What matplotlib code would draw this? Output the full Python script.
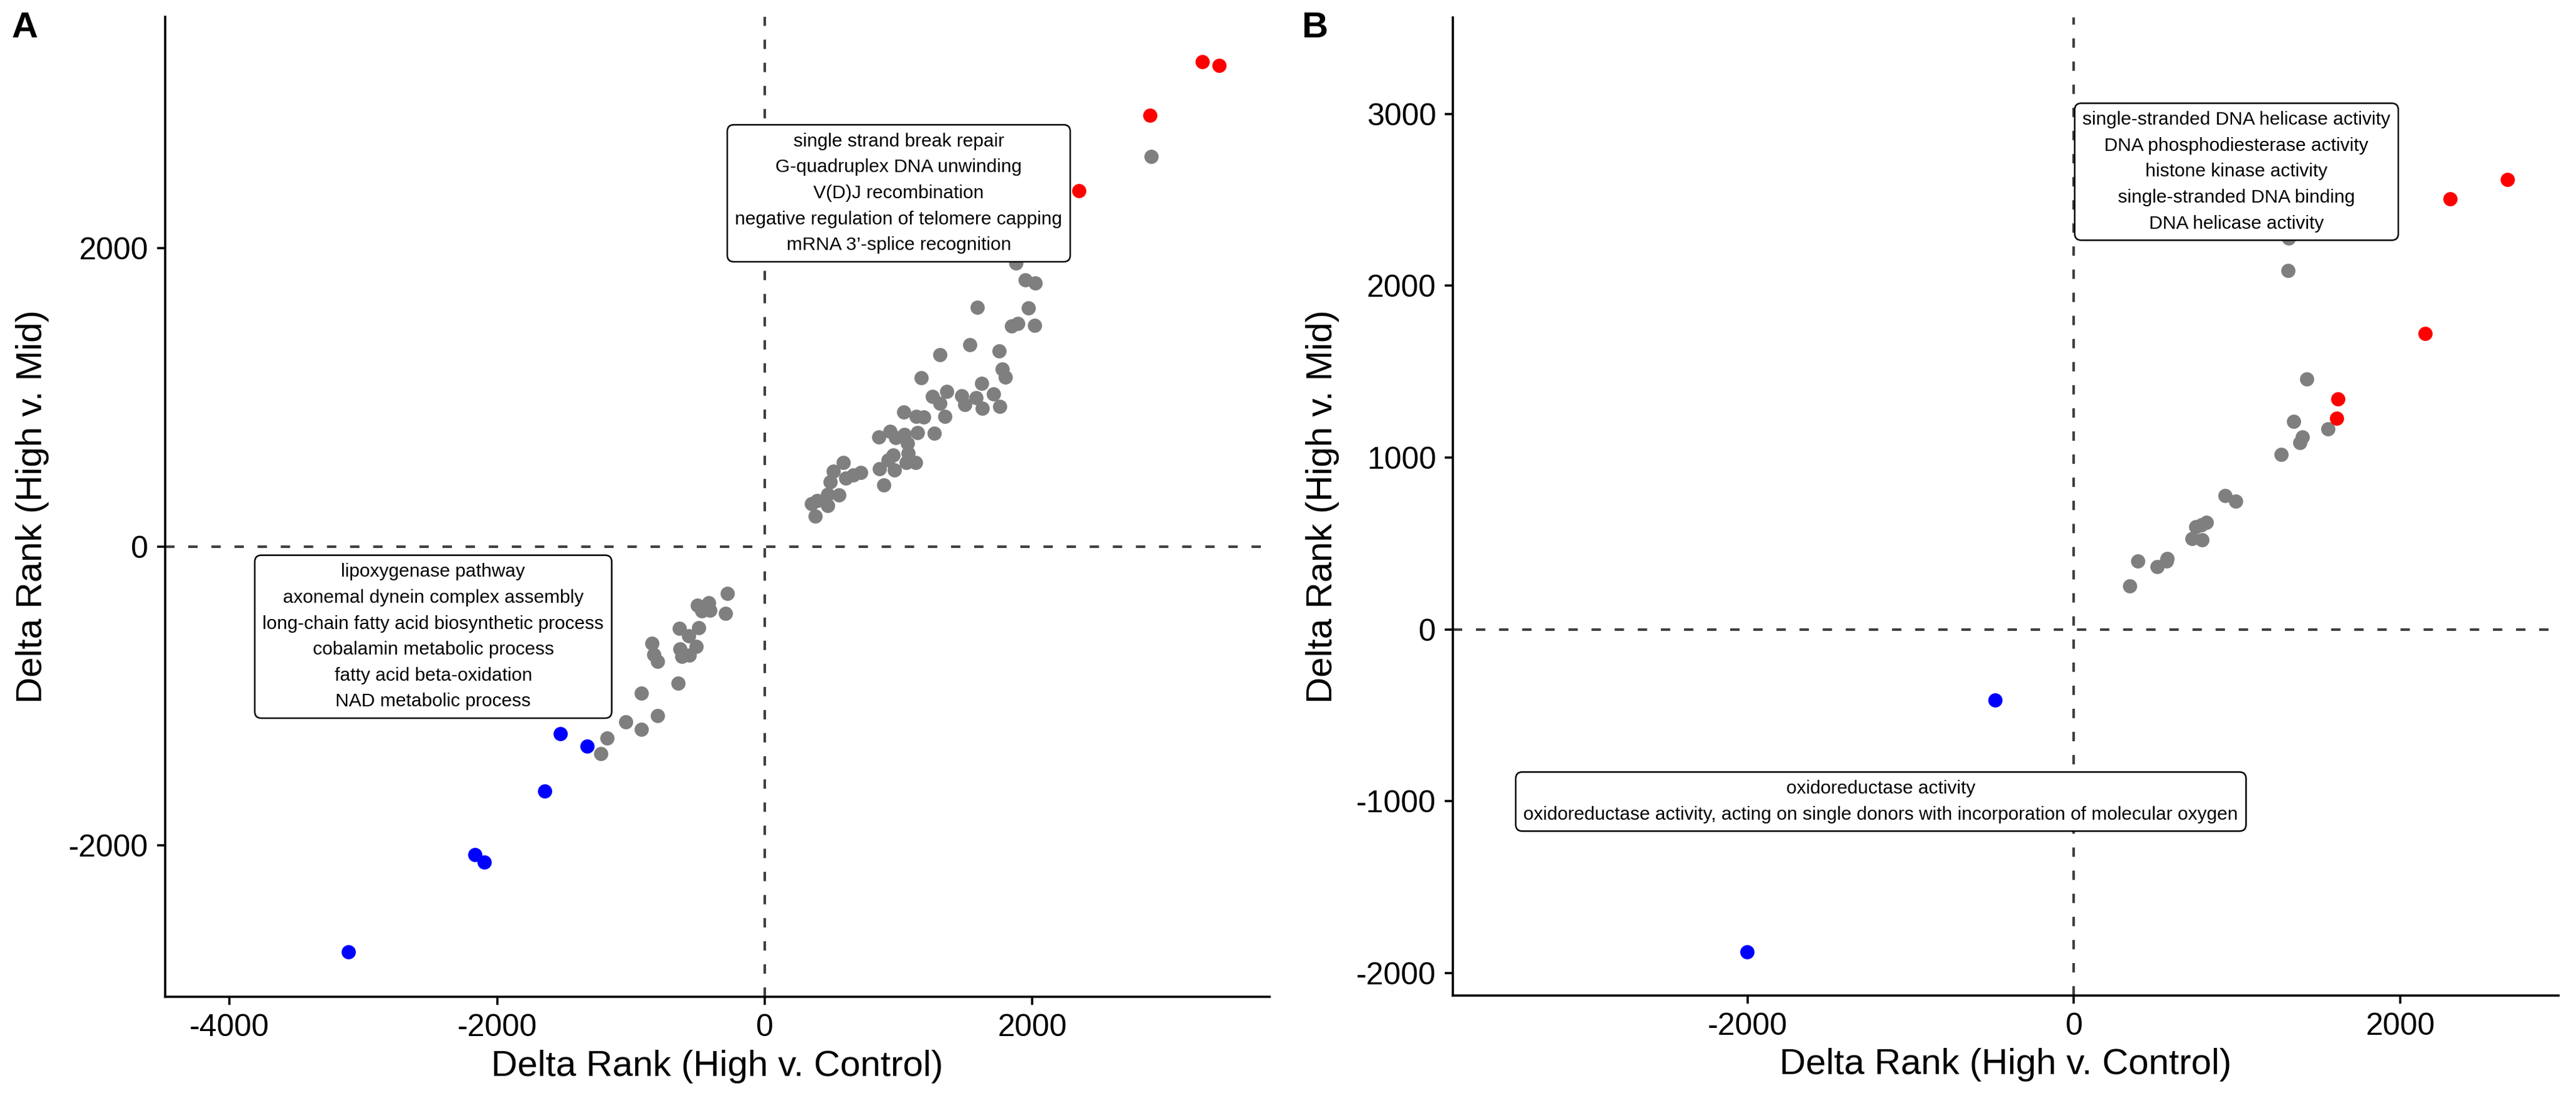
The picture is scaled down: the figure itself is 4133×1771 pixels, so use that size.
import matplotlib
matplotlib.use("Agg")
import matplotlib.pyplot as plt
import numpy as np

plt.rcParams['font.family'] = ['Liberation Sans', 'DejaVu Sans']
plt.rcParams['axes.unicode_minus'] = False

# ---------------- Panel A data ----------------
a_gray_x = [1876, 1946, 2021, 1588, 1971, 1845, 1889, 2018, 1534, 1310, 1752, 1774, 1796, 1167,
            1621, 1361, 1251, 1473, 1580, 1709, 1307, 1496, 1625, 1754, 1038, 1132, 1186, 1346,
            1139, 1265, 852, 934, 976, 1042, 1065, 1069, 958, 922, 1057, 1128, 855, 970, 891,
            588, 514, 607, 663, 716, 488, 472, 554, 348, 390, 469, 379, 2887,
            -279, -501, -418, -470, -408, -295, -638, -494, -567, -514, -632, -618, -563,
            -841, -827, -801, -647, -923, -801, -1037, -921, -1178, -1223]
a_gray_y = [1901, 1786, 1765, 1603, 1599, 1479, 1493, 1481, 1353, 1286, 1311, 1189, 1136, 1133,
            1094, 1041, 1006, 1009, 999, 1023, 959, 951, 928, 938, 900, 871, 867, 871,
            764, 760, 735, 771, 732, 750, 693, 628, 614, 582, 565, 562, 521, 514, 413,
            562, 505, 458, 479, 498, 436, 349, 345, 289, 308, 277, 203, 2614,
            -313, -391, -377, -430, -427, -445, -546, -542, -597, -667, -685, -734, -727,
            -646, -722, -768, -916, -982, -1132, -1175, -1223, -1281, -1388]
a_red_x = [3269, 3397, 2876, 2347]
a_red_y = [3247, 3223, 2890, 2384]
a_blue_x = [-1527, -1329, -1645, -2167, -2094, -3112]
a_blue_y = [-1251, -1335, -1637, -2065, -2112, -2713]
a_up_terms = ["single strand break repair", "G-quadruplex DNA unwinding", "V(D)J recombination",
              "negative regulation of telomere capping", "mRNA 3\u2019-splice recognition"]
a_down_terms = ["lipoxygenase pathway", "axonemal dynein complex assembly",
                "long-chain fatty acid biosynthetic process", "cobalamin metabolic process",
                "fatty acid beta-oxidation", "NAD metabolic process"]

# ---------------- Panel B data ----------------
b_gray_x = [1318, 1314, 1426, 1346, 1558, 1402, 1385, 1272, 928, 993, 811, 782, 749, 724, 786,
            573, 568, 509, 390, 341]
b_gray_y = [2278, 2089, 1457, 1211, 1167, 1120, 1089, 1019, 778, 746, 624, 608, 597, 528, 522,
            413, 398, 367, 398, 254]
b_red_x = [2660, 2307, 2153, 1620, 1611]
b_red_y = [2620, 2507, 1722, 1343, 1228]
b_blue_x = [-484, -2004]
b_blue_y = [-410, -1877]
b_up_terms = ["single-stranded DNA helicase activity", "DNA phosphodiesterase activity",
              "histone kinase activity", "single-stranded DNA binding", "DNA helicase activity"]
b_down_terms = ["oxidoreductase activity",
                "oxidoreductase activity, acting on single donors with incorporation of molecular oxygen"]

W, H = 4133, 1771
DPI = 300
fig = plt.figure(figsize=(W / DPI, H / DPI), dpi=DPI)

def px_axes(l, t, r, b):
    return fig.add_axes([l / W, 1 - b / H, (r - l) / W, (b - t) / H])

axA = px_axes(265, 27, 2037, 1599)
axB = px_axes(2331, 28, 4105, 1597)

GRAY = '#7F7F7F'
RED = '#FF0000'
BLUE = '#0000FF'
MS = 30

def style(ax, xlim, ylim, xticks, yticks, ylab_x):
    ax.set_xlim(*xlim)
    ax.set_ylim(*ylim)
    ax.set_xticks(xticks)
    ax.set_yticks(yticks)
    ax.set_xticklabels([str(v) for v in xticks])
    ax.set_yticklabels([str(v) for v in yticks])
    for s in ['top', 'right']:
        ax.spines[s].set_visible(False)
    for s in ['left', 'bottom']:
        ax.spines[s].set_linewidth(0.85)
        ax.spines[s].set_color('black')
    ax.tick_params(axis='both', direction='out', length=3.2, width=0.85, pad=3.2,
                   labelsize=12, colors='black')
    ax.axhline(0, color='#3f3f3f', lw=1.0, dashes=(3.6, 5.3), zorder=1)
    ax.axvline(0, color='#3f3f3f', lw=1.0, dashes=(3.6, 5.3), zorder=1)
    ax.set_xlabel('Delta Rank (High v. Control)', fontsize=14)
    ax.set_ylabel('Delta Rank (High v. Mid)', fontsize=14)
    ax.xaxis.label.set_va('center')
    ax.yaxis.label.set_va('center')
    ax.xaxis.set_label_coords(0.5, -0.071)
    ax.yaxis.set_label_coords(ylab_x, 0.5)

def label(ax, x, y, terms):
    ax.text(x, y, "\n".join(terms), ha='center', va='center', fontsize=7.2,
            linespacing=1.62, zorder=5,
            bbox=dict(boxstyle='round,pad=0.42,rounding_size=0.35', fc='white',
                      ec='black', lw=0.6))

# Panel A
axA.scatter(a_gray_x, a_gray_y, s=MS, c=GRAY, linewidths=0, zorder=3)
axA.scatter(a_red_x, a_red_y, s=MS, c=RED, linewidths=0, zorder=3)
axA.scatter(a_blue_x, a_blue_y, s=MS, c=BLUE, linewidths=0, zorder=3)
style(axA, (-4480, 3772), (-3015, 3549), [-4000, -2000, 0, 2000], [-2000, 0, 2000], -0.120)
label(axA, 1001, 2367, a_up_terms)
label(axA, -2477, -603, a_down_terms)

# Panel B
axB.scatter(b_gray_x, b_gray_y, s=MS, c=GRAY, linewidths=0, zorder=3)
axB.scatter(b_red_x, b_red_y, s=MS, c=RED, linewidths=0, zorder=3)
axB.scatter(b_blue_x, b_blue_y, s=MS, c=BLUE, linewidths=0, zorder=3)
style(axB, (-3809, 2972), (-2131, 3562), [-2000, 0, 2000], [-2000, -1000, 0, 1000, 2000, 3000], -0.118)
label(axB, 997, 2664, b_up_terms)
label(axB, -1184, -1002, b_down_terms)

fig.text(40 / W, 1 - 45 / H, 'A', fontsize=14, fontweight='bold', ha='center', va='center')
fig.text(2109 / W, 1 - 45 / H, 'B', fontsize=14, fontweight='bold', ha='center', va='center')

fig.savefig('out.png', dpi=DPI, facecolor='white')
